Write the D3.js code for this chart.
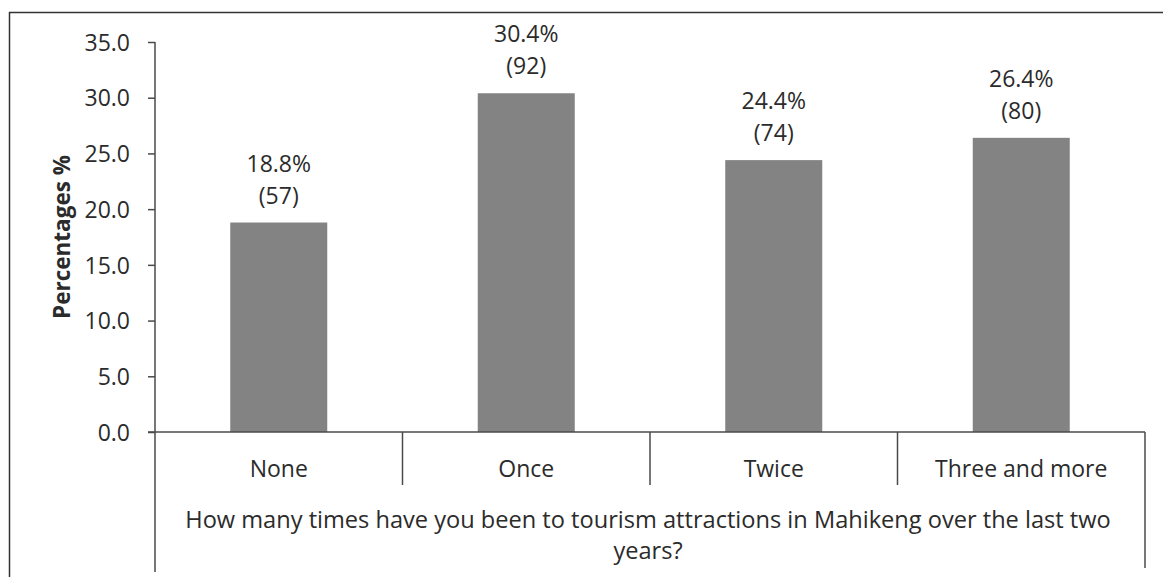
<!DOCTYPE html>
<html><head><meta charset="utf-8">
<script src="https://cdn.jsdelivr.net/npm/d3@7"></script>
<style>
html,body{margin:0;padding:0;background:#fff;}
svg text{font-family:"Open Sans",sans-serif;fill:#2b2b2b;}
</style></head>
<body><svg id="c" width="1163" height="577"></svg>
<script>
const categories = ["None", "Once", "Twice", "Three and more"];
const percentages = [18.8, 30.4, 24.4, 26.4];
const counts = [57, 92, 74, 80];
const yTicks = [0, 5, 10, 15, 20, 25, 30, 35];
const yTitle = "Percentages %";
const xTitleLines = ["How many times have you been to tourism attractions in Mahikeng over the last two", "years?"];

const svg = d3.select("#c");
const pLeft = 155, pRight = 1145, pTop = 42, pBottom = 432;
const x = d3.scaleBand().domain(categories).range([pLeft, pRight]).paddingInner(0).paddingOuter(0);
const y = d3.scaleLinear().domain([0, 35]).range([pBottom, pTop]);
const lineCol = "#4a4a4a";
const fs = "23px";

// frame
svg.append("line").attr("x1", 9).attr("x2", 1163).attr("y1", 12.5).attr("y2", 12.5).attr("stroke", "#333").attr("stroke-width", 1.5);
svg.append("line").attr("x1", 9.5).attr("x2", 9.5).attr("y1", 12).attr("y2", 577).attr("stroke", "#333").attr("stroke-width", 1.5);

// bars
const barW = 97;
svg.selectAll("rect.bar").data(categories).join("rect").attr("class", "bar")
  .attr("x", d => x(d) + x.bandwidth() / 2 - barW / 2)
  .attr("width", barW)
  .attr("y", (d, i) => y(percentages[i]))
  .attr("height", (d, i) => y(0) - y(percentages[i]))
  .attr("fill", "#838383");

// y axis
const yAxis = d3.axisLeft(y).tickValues(yTicks).tickFormat(d3.format(".1f")).tickSize(7).tickSizeOuter(0);
const gy = svg.append("g").attr("transform", `translate(${pLeft},0)`).call(yAxis);
gy.select(".domain").remove();
gy.selectAll(".tick line").attr("stroke", lineCol).attr("stroke-width", 1.5);
gy.selectAll(".tick text").attr("x", -25).attr("dy", "0.36em").style("font-size", "23px").attr("fill", "#2b2b2b");
svg.append("line").attr("x1", pLeft).attr("x2", pLeft).attr("y1", pTop).attr("y2", 572).attr("stroke", lineCol).attr("stroke-width", 1.5);

// x axis baseline + band separators
svg.append("line").attr("x1", pLeft - 7).attr("x2", pRight).attr("y1", pBottom).attr("y2", pBottom).attr("stroke", lineCol).attr("stroke-width", 1.5);
const seps = categories.slice(1).map(c => x(c));
svg.selectAll("line.sep").data(seps).join("line").attr("class", "sep")
  .attr("x1", d => d).attr("x2", d => d).attr("y1", pBottom).attr("y2", 485)
  .attr("stroke", lineCol).attr("stroke-width", 1.5);
svg.append("line").attr("x1", pRight).attr("x2", pRight).attr("y1", pBottom).attr("y2", 568).attr("stroke", lineCol).attr("stroke-width", 1.5);

// category labels
svg.selectAll("text.cat").data(categories).join("text").attr("class", "cat")
  .attr("x", d => x(d) + x.bandwidth() / 2).attr("y", 477)
  .attr("text-anchor", "middle").style("font-size", fs).text(d => d);

// data labels
const lab = svg.selectAll("g.lab").data(categories).join("g").attr("class", "lab");
lab.append("text").attr("x", d => x(d) + x.bandwidth() / 2).attr("y", (d, i) => y(percentages[i]) - 51)
  .attr("text-anchor", "middle").style("font-size", fs).text((d, i) => percentages[i].toFixed(1) + "%");
lab.append("text").attr("x", d => x(d) + x.bandwidth() / 2).attr("y", (d, i) => y(percentages[i]) - 19)
  .attr("text-anchor", "middle").style("font-size", fs).text((d, i) => "(" + counts[i] + ")");

// x title
svg.selectAll("text.xt").data(xTitleLines).join("text").attr("class", "xt")
  .attr("x", 648).attr("y", (d, i) => 528 + i * 31)
  .attr("text-anchor", "middle").style("font-size", "23.6px").text(d => d);

// y title
svg.append("text").attr("transform", `translate(70,${(pTop + pBottom) / 2}) rotate(-90)`)
  .attr("text-anchor", "middle").style("font-size", "22.5px").style("font-weight", "bold").text(yTitle);
</script></body></html>
